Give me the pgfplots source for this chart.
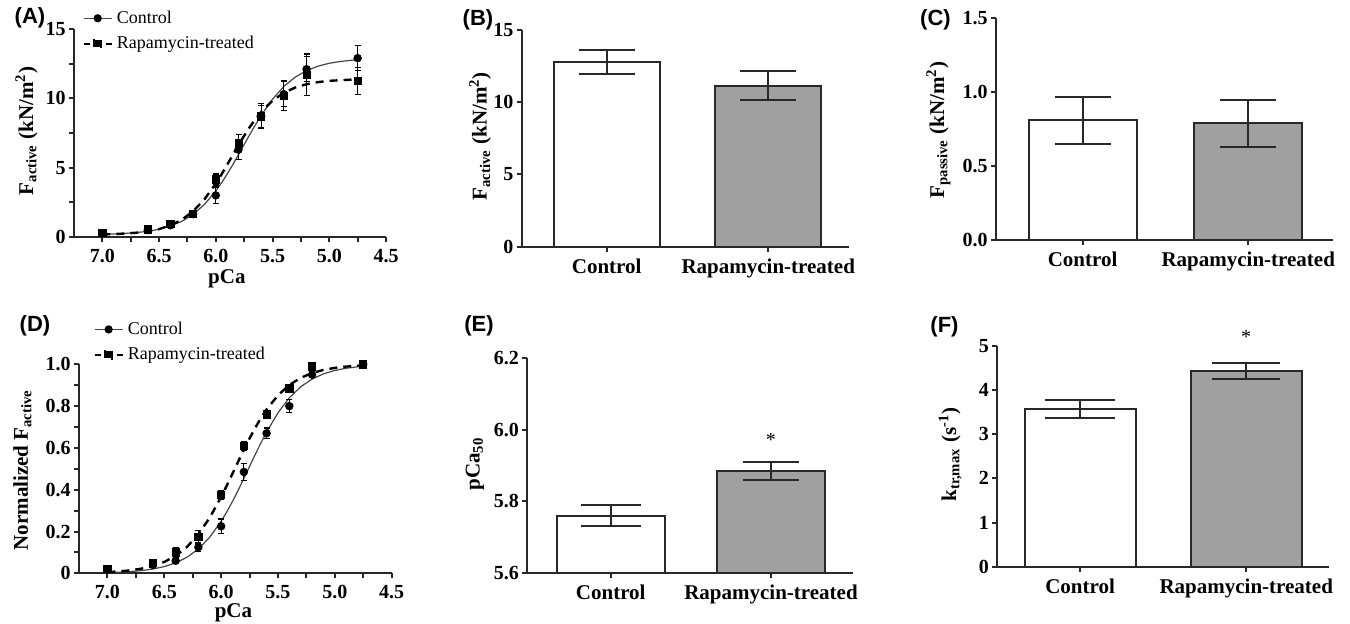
\documentclass[border=0pt]{standalone}
\usepackage{fontspec}
\setmainfont{Liberation Serif}
\newfontfamily\arialfont{Liberation Sans}
\usepackage{pgfplots}
\pgfplotsset{compat=1.18}
\definecolor{barfill}{RGB}{160,160,160}
\definecolor{axcol}{RGB}{40,40,40}
\definecolor{curvecol}{RGB}{70,70,70}

\pgfplotsset{
  common/.style={
    scale only axis,
    axis lines*=left,
    axis line style={axcol, line width=1pt, -},
    tick style={axcol, line width=1pt},
    tick align=outside,
    major tick length=2.5pt, minor tick length=2.5pt,
    /pgf/number format/assume math mode=true,
    ticklabel style={font=\fontsize{10}{12}\selectfont\bfseries},
    yticklabel style={inner sep=1.5pt},
    label style={font=\fontsize{10.5}{12}\selectfont\bfseries},
    clip mode=individual,
  },
  barax/.style={
    common, ybar, bar width=#1,
    xtick={0,1}, xticklabels={Control,Rapamycin-treated},
    x tick label style={font=\fontsize{10.5}{12}\selectfont\bfseries},
  },
  ctrlbar/.style={bar shift=0pt, fill=white, draw=axcol, line width=1pt,
    error bars/.cd, y dir=both, y explicit,
    error bar style={axcol, line width=1pt},
    error mark options={rotate=90, mark size=#1, line width=1pt, axcol}},
  rapbar/.style={bar shift=0pt, fill=barfill, draw=axcol, line width=1pt,
    error bars/.cd, y dir=both, y explicit,
    error bar style={axcol, line width=1pt},
    error mark options={rotate=90, mark size=#1, line width=1pt, axcol}},
  ctrlpts/.style={only marks, mark=*, mark size=1.9pt, black, forget plot,
    error bars/.cd, y dir=both, y explicit,
    error bar style={black, line width=0.6pt},
    error mark options={rotate=90, mark size=1.5pt, line width=0.6pt, black}},
  rappts/.style={only marks, mark=square*, mark size=1.8pt, black, forget plot,
    error bars/.cd, y dir=both, y explicit,
    error bar style={black, line width=0.6pt},
    error mark options={rotate=90, mark size=1.5pt, line width=0.6pt, black}},
  ctrlcurve/.style={no marks, solid, curvecol, line width=0.6pt,
    legend image code/.code={
      \draw[curvecol, line width=0.6pt] (0pt,0pt) -- (14pt,0pt);
      \fill[black] (7pt,0pt) circle (1.75pt);}},
  rapcurve/.style={no marks, black, line width=1.2pt, dash pattern=on 4pt off 3pt,
    legend image code/.code={
      \draw[black, line width=1.2pt, dash pattern=on 3pt off 2.5pt] (0pt,0pt) -- (14pt,0pt);
      \fill[black] (5.25pt,-1.75pt) rectangle (8.75pt,1.75pt);}},
  legsty/.style={legend cell align=left,
    legend style={at={#1}, anchor=north west, draw=none, fill=none,
      font=\fontsize{9}{10}\selectfont, row sep=1pt, inner sep=0pt}},
}

\begin{document}
\begin{tikzpicture}
\path[use as bounding box] (0,0) rectangle (675pt,311.5pt);

% ---------------- Panel A ----------------
\begin{axis}[common, at={(37pt,193pt)}, anchor=south west,
  width=156pt, height=104pt,
  xmin=4.5, xmax=7.25, x dir=reverse, ymin=0, ymax=15,
  xtick={4.5,5,5.5,6,6.5,7}, xticklabels={4.5,5.0,5.5,6.0,6.5,7.0},
  minor xtick={4.75,5.25,5.75,6.25,6.75},
  ytick={0,5,10,15}, yticklabels={0,5,10,15}, minor ytick={2.5,7.5,12.5},
  xlabel={pCa}, ylabel={F\textsubscript{active} (kN/m\textsuperscript{2})},
  xlabel style={at={(axis description cs:0.49,-0.225)}, anchor=base},
  ylabel style={at={(axis description cs:-0.152,0.51)}, anchor=center},
  legsty={(axis description cs:0.026,1.11)}]
\addplot[ctrlcurve] coordinates {
 (7.0,0.19) (6.9,0.22) (6.8,0.26) (6.7,0.32) (6.6,0.41) (6.5,0.56) (6.4,0.79)
 (6.3,1.13) (6.2,1.63) (6.1,2.35) (6.0,3.32) (5.95,3.90) (5.9,4.54) (5.85,5.22)
 (5.8,5.94) (5.75,6.67) (5.7,7.40) (5.65,8.10) (5.6,8.77) (5.5,9.94) (5.4,10.86)
 (5.3,11.53) (5.2,12.00) (5.1,12.32) (5.0,12.53) (4.9,12.66) (4.8,12.75) (4.75,12.78)};
\addlegendentry{Control}
\addplot[rapcurve] coordinates {
 (7.0,0.18) (6.9,0.21) (6.8,0.25) (6.7,0.31) (6.6,0.41) (6.5,0.57) (6.4,0.84)
 (6.3,1.24) (6.2,1.86) (6.1,2.72) (6.0,3.86) (5.95,4.51) (5.9,5.21) (5.85,5.92)
 (5.8,6.62) (5.75,7.30) (5.7,7.94) (5.65,8.51) (5.6,9.02) (5.5,9.84) (5.4,10.40)
 (5.3,10.78) (5.2,11.02) (5.1,11.17) (5.0,11.26) (4.9,11.31) (4.8,11.35) (4.75,11.36)};
\addlegendentry{Rapamycin-treated}
\addplot[ctrlpts] coordinates {
 (7.0,0.25) +- (0,0.1) (6.6,0.5) +- (0,0.1) (6.4,0.85) +- (0,0.15)
 (6.2,1.65) +- (0,0.2) (6.0,3.0) +- (0,0.6) (5.8,6.3) +- (0,0.7)
 (5.6,8.7) +- (0,0.8) (5.4,10.3) +- (0,0.9) (5.2,12.1) +- (0,0.9) (4.75,12.9) +- (0,0.9)};
\addplot[rappts] coordinates {
 (7.0,0.3) +- (0,0.1) (6.6,0.55) +- (0,0.1) (6.4,0.95) +- (0,0.15)
 (6.2,1.65) +- (0,0.2) (6.0,4.15) +- (0,0.4) (5.8,6.8) +- (0,0.6)
 (5.6,8.7) +- (0,0.9) (5.4,10.2) +- (0,1.1) (5.2,11.7) +- (0,1.5) (4.75,11.25) +- (0,1.0)};
\end{axis}

% ---------------- Panel B ----------------
\begin{axis}[barax=53pt, at={(260.85pt,188.15pt)}, anchor=south west,
  width=163.65pt, height=108.35pt,
  xmin=-0.526, xmax=1.5, ymin=0, ymax=15,
  ytick={0,5,10,15}, yticklabels={0,5,10,15},
  ylabel={F\textsubscript{active} (kN/m\textsuperscript{2})},
  ylabel style={at={(axis description cs:-0.127,0.51)}, anchor=center}]
\addplot[ctrlbar=14pt] coordinates {(0,12.8) +- (0,0.85)};
\addplot[rapbar=14pt] coordinates {(1,11.15) +- (0,1.0)};
\end{axis}

% ---------------- Panel C ----------------
\begin{axis}[barax=54pt, at={(498pt,191.5pt)}, anchor=south west,
  width=168.35pt, height=110.85pt,
  xmin=-0.523, xmax=1.51, ymin=0, ymax=1.5,
  ytick={0,0.5,1,1.5}, yticklabels={0.0,0.5,1.0,1.5},
  ylabel={F\textsubscript{passive} (kN/m\textsuperscript{2})},
  ylabel style={at={(axis description cs:-0.171,0.496)}, anchor=center}]
\addplot[ctrlbar=14pt] coordinates {(0,0.81) +- (0,0.16)};
\addplot[rapbar=14pt] coordinates {(1,0.79) +- (0,0.16)};
\end{axis}

% ---------------- Panel D ----------------
\begin{axis}[common, at={(39.5pt,24.85pt)}, anchor=south west,
  width=156.35pt, height=104.5pt,
  xmin=4.5, xmax=7.25, x dir=reverse, ymin=0, ymax=1,
  xtick={4.5,5,5.5,6,6.5,7}, xticklabels={4.5,5.0,5.5,6.0,6.5,7.0},
  minor xtick={4.75,5.25,5.75,6.25,6.75},
  ytick={0,0.2,0.4,0.6,0.8,1}, yticklabels={0,0.2,0.4,0.6,0.8,1.0},
  minor ytick={0.1,0.3,0.5,0.7,0.9},
  xlabel={pCa}, ylabel={Normalized F\textsubscript{active}},
  xlabel style={at={(axis description cs:0.494,-0.213)}, anchor=base, inner sep=0pt},
  ylabel style={at={(axis description cs:-0.181,0.494)}, anchor=center},
  legsty={(axis description cs:0.045,1.225)}]
\addplot[ctrlcurve] coordinates {
 (7.0,0.0033) (6.9,0.0052) (6.8,0.0083) (6.7,0.0130) (6.6,0.0205) (6.5,0.0321) (6.4,0.0499)
 (6.3,0.0768) (6.2,0.1165) (6.1,0.1728) (6.0,0.2488) (5.95,0.2942) (5.9,0.3442) (5.85,0.3978)
 (5.8,0.4541) (5.75,0.5115) (5.7,0.5685) (5.65,0.6238) (5.6,0.6761) (5.5,0.7680) (5.4,0.8400)
 (5.3,0.8927) (5.2,0.9295) (5.1,0.9543) (5.0,0.9707) (4.9,0.9813) (4.8,0.9881) (4.75,0.9905)};
\addlegendentry{Control}
\addplot[rapcurve] coordinates {
 (7.0,0.0057) (6.9,0.0090) (6.8,0.0142) (6.7,0.0224) (6.6,0.0350) (6.5,0.0544) (6.4,0.0836)
 (6.3,0.1263) (6.2,0.1864) (6.1,0.2664) (6.0,0.3652) (5.95,0.4202) (5.9,0.4771) (5.85,0.5345)
 (5.8,0.5910) (5.75,0.6454) (5.7,0.6961) (5.65,0.7425) (5.6,0.7840) (5.5,0.8519) (5.4,0.9012)
 (5.3,0.9353) (5.2,0.9582) (5.1,0.9732) (5.0,0.9829) (4.9,0.9892) (4.8,0.9931) (4.75,0.9945)};
\addlegendentry{Rapamycin-treated}
\addplot[ctrlpts] coordinates {
 (7.0,0.02) +- (0,0.01) (6.6,0.04) +- (0,0.01) (6.4,0.06) +- (0,0.01)
 (6.2,0.125) +- (0,0.02) (6.0,0.225) +- (0,0.035) (5.8,0.485) +- (0,0.04)
 (5.6,0.67) +- (0,0.025) (5.4,0.80) +- (0,0.03) (5.2,0.95) +- (0,0.015) (4.75,1.0) +- (0,0.0)};
\addplot[rappts] coordinates {
 (7.0,0.02) +- (0,0.01) (6.6,0.05) +- (0,0.01) (6.4,0.10) +- (0,0.025)
 (6.2,0.175) +- (0,0.03) (6.0,0.375) +- (0,0.02) (5.8,0.61) +- (0,0.02)
 (5.6,0.76) +- (0,0.015) (5.4,0.885) +- (0,0.015) (5.2,0.99) +- (0,0.015) (4.75,1.0) +- (0,0.0)};
\end{axis}

% ---------------- Panel E ----------------
\begin{axis}[barax=54pt, at={(263.65pt,25.15pt)}, anchor=south west,
  width=162.7pt, height=107.2pt,
  xmin=-0.521, xmax=1.51, ymin=5.6, ymax=6.2,
  ytick={5.6,5.8,6.0,6.2}, yticklabels={5.6,5.8,6.0,6.2},
  ylabel={pCa\textsubscript{50}},
  ylabel style={at={(axis description cs:-0.161,0.507)}, anchor=center}]
\addplot[ctrlbar=15pt] coordinates {(0,5.76) +- (0,0.03)};
\addplot[rapbar=14pt] coordinates {(1,5.885) +- (0,0.026)};
\node[font=\fontsize{10}{12}\selectfont] at (axis cs:1,5.972) {*};
\end{axis}

% ---------------- Panel F ----------------
\begin{axis}[barax=55.5pt, at={(498.65pt,28.15pt)}, anchor=south west,
  width=166pt, height=110.5pt,
  xmin=-0.498, xmax=1.5, ymin=0, ymax=5,
  ytick={0,1,2,3,4,5}, yticklabels={0,1,2,3,4,5},
  ylabel={k\textsubscript{tr,max} (s\textsuperscript{-1})},
  ylabel style={at={(axis description cs:-0.142,0.508)}, anchor=center}]
\addplot[ctrlbar=17.5pt] coordinates {(0,3.57) +- (0,0.2)};
\addplot[rapbar=17pt] coordinates {(1,4.42) +- (0,0.18)};
\node[font=\fontsize{10}{12}\selectfont] at (axis cs:1,5.2) {*};
\end{axis}

% panel letters
\node[font=\arialfont\bfseries\fontsize{11}{13}\selectfont] at (15pt,302.75pt) {(A)};
\node[font=\arialfont\bfseries\fontsize{11}{13}\selectfont] at (239pt,301.5pt) {(B)};
\node[font=\arialfont\bfseries\fontsize{11}{13}\selectfont] at (467.75pt,301.5pt) {(C)};
\node[font=\arialfont\bfseries\fontsize{11}{13}\selectfont] at (17.5pt,148.5pt) {(D)};
\node[font=\arialfont\bfseries\fontsize{11}{13}\selectfont] at (239.5pt,148.5pt) {(E)};
\node[font=\arialfont\bfseries\fontsize{11}{13}\selectfont] at (472.25pt,148.25pt) {(F)};
\end{tikzpicture}
\end{document}
